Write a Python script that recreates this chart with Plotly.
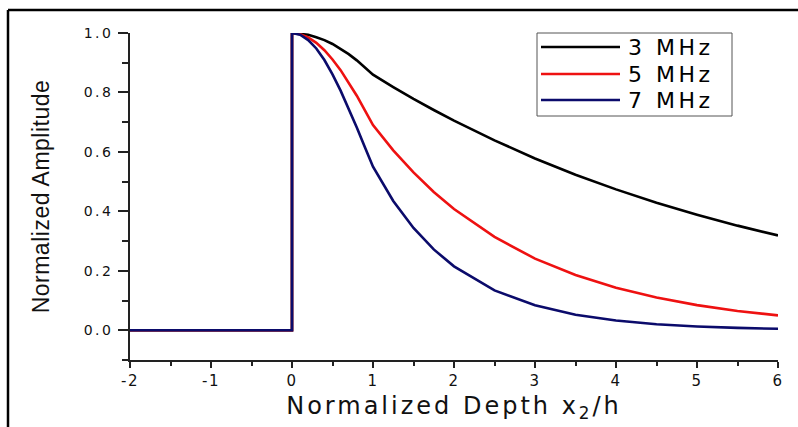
import plotly.graph_objects as go

# Normalized depth positions (step at the surface x2/h = 0)
depth = [-2, 0, 0, 0.1, 0.2, 0.3, 0.4, 0.5, 0.6, 0.7, 0.8, 0.9, 1.0,
         1.25, 1.5, 1.75, 2.0, 2.5, 3.0, 3.5, 4.0, 4.5, 5.0, 5.5, 6.0]

amp_3mhz = [0, 0, 1.0, 0.998, 0.994, 0.986, 0.976, 0.963, 0.947, 0.929, 0.908, 0.885, 0.860,
            0.818, 0.778, 0.741, 0.705, 0.639, 0.578, 0.523, 0.474, 0.429, 0.389, 0.352, 0.319]
amp_5mhz = [0, 0, 1.0, 0.996, 0.985, 0.967, 0.942, 0.911, 0.875, 0.834, 0.789, 0.740, 0.690,
            0.605, 0.531, 0.465, 0.408, 0.314, 0.241, 0.186, 0.143, 0.110, 0.0845, 0.065, 0.050]
amp_7mhz = [0, 0, 1.0, 0.994, 0.976, 0.948, 0.909, 0.861, 0.806, 0.746, 0.682, 0.616, 0.550,
            0.435, 0.344, 0.272, 0.215, 0.134, 0.084, 0.052, 0.033, 0.0205, 0.0128, 0.008, 0.005]

series_names = ["3 MHz", "5 MHz", "7 MHz"]
series_colors = ["#000000", "#ee1111", "#0b0b6b"]
series_values = [amp_3mhz, amp_5mhz, amp_7mhz]

x_ticks = [-2, -1, 0, 1, 2, 3, 4, 5, 6]
y_ticks = [0.0, 0.2, 0.4, 0.6, 0.8, 1.0]

SANS = "Liberation Sans, Arial, sans-serif"
WIDE = "DejaVu Sans, Verdana, sans-serif"


def spaced(text, px):
    return '<span style="letter-spacing:%gpx">%s</span>' % (px, text)


fig = go.Figure()
for name, color, vals in zip(series_names, series_colors, series_values):
    fig.add_trace(go.Scatter(x=depth, y=vals, mode="lines", name=name,
                             line=dict(color=color, width=2.6), showlegend=False))

W, H = 798, 427
ml, mr, mt, mb = 130, 20, 33, 67
pw, ph = W - ml - mr, H - mt - mb


def px_x(p):
    return (p - ml) / pw


def px_y(p):
    return (H - mb - p) / ph


shapes = []
# outer frame (top and left edges)
shapes.append(dict(type="line", xref="paper", yref="paper",
                   x0=px_x(8), x1=px_x(800), y0=px_y(10), y1=px_y(10),
                   line=dict(color="black", width=2.5)))
shapes.append(dict(type="line", xref="paper", yref="paper",
                   x0=px_x(8), x1=px_x(8), y0=px_y(10), y1=px_y(430),
                   line=dict(color="black", width=2.5)))

# legend box with line samples
lx0, lx1, ly0, ly1 = 537, 732, 33, 116
shapes.append(dict(type="rect", xref="paper", yref="paper",
                   x0=px_x(lx0), x1=px_x(lx1), y0=px_y(ly1), y1=px_y(ly0),
                   line=dict(color="#555555", width=1), fillcolor="white", layer="above"))
annotations = []
rows = [47, 74, 100]
for name, color, ry in zip(series_names, series_colors, rows):
    shapes.append(dict(type="line", xref="paper", yref="paper",
                       x0=px_x(541), x1=px_x(620), y0=px_y(ry), y1=px_y(ry),
                       line=dict(color=color, width=2.4), layer="above"))
    annotations.append(dict(xref="paper", yref="paper", x=px_x(626), y=px_y(ry),
                            text=spaced(name, 3.5), showarrow=False,
                            xanchor="left", yanchor="middle",
                            font=dict(family=WIDE, size=22, color="black")))

fig.update_layout(
    width=W, height=H,
    margin=dict(l=ml, r=mr, t=mt, b=mb),
    paper_bgcolor="white", plot_bgcolor="white",
    shapes=shapes, annotations=annotations,
    xaxis=dict(range=[-2, 6], tickvals=x_ticks,
               ticktext=[spaced(str(v), 1.5) for v in x_ticks],
               showgrid=False, zeroline=False, showline=True, linecolor="#222222", linewidth=1.5,
               ticks="outside", ticklen=6, tickwidth=1.5, tickcolor="#222222",
               minor=dict(dtick=0.5, ticks="outside", ticklen=4, tickwidth=1.5, tickcolor="#222222"),
               tickfont=dict(family=WIDE, size=15, color="#111111"),
               title=dict(text=spaced("Normalized Depth x<sub>2</sub>/h", 3), standoff=8,
                          font=dict(family=WIDE, size=24, color="#111111"))),
    yaxis=dict(range=[-0.1, 1.0], tickvals=y_ticks,
               ticktext=[spaced("%.1f" % v, 2.5) for v in y_ticks],
               showgrid=False, zeroline=False, showline=True, linecolor="#222222", linewidth=1.5,
               ticks="outside", ticklen=10, tickwidth=1.5, tickcolor="#222222",
               minor=dict(dtick=0.1, ticks="outside", ticklen=6, tickwidth=1.5, tickcolor="#222222"),
               tickfont=dict(family=WIDE, size=14, color="#111111"),
               ticklabelstandoff=2,
               title=dict(text=spaced("Normalized Amplitude", 0.5), standoff=28,
                          font=dict(family=SANS, size=23, color="#111111"))),
)

fig.write_html("out.html")
